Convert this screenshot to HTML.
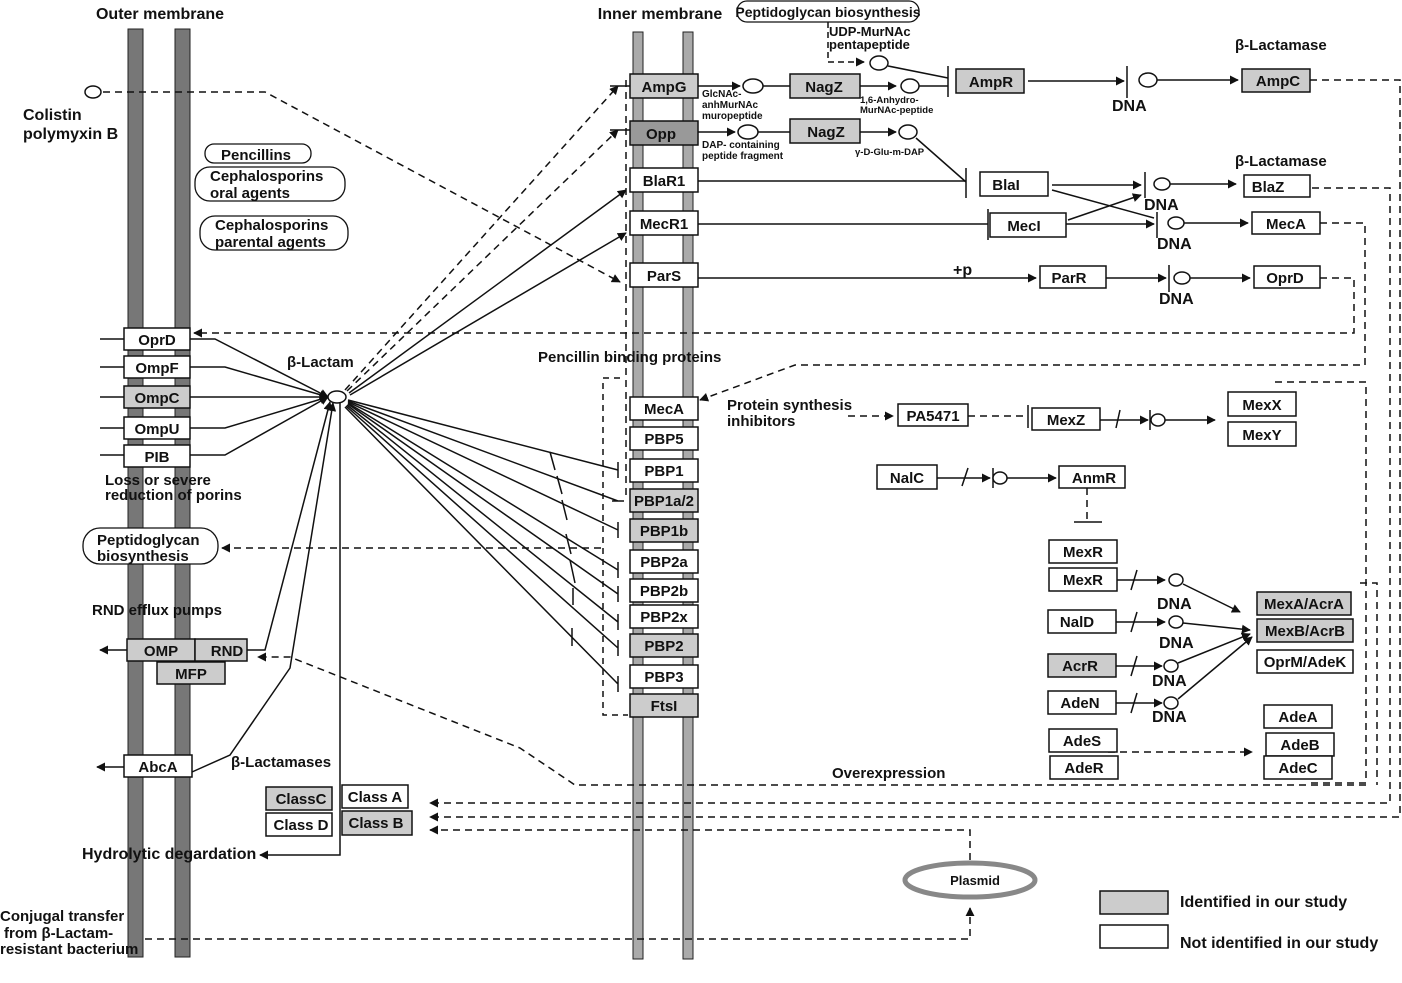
<!DOCTYPE html>
<html><head><meta charset="utf-8"><style>
html,body{margin:0;padding:0;background:#fff}
svg{display:block}
text{font-family:"Liberation Sans",Arial,sans-serif;font-weight:bold;fill:#111}
.b{font-size:15px;text-anchor:middle}
.s{font-size:10px}
.l{font-size:16px}
</style></head><body>
<svg width="1402" height="983" viewBox="0 0 1402 983" xmlns="http://www.w3.org/2000/svg">
<defs>
<marker id="a" viewBox="0 0 10 10" refX="9" refY="5" markerWidth="9" markerHeight="9" markerUnits="userSpaceOnUse" orient="auto"><path d="M0,0L10,5L0,10z" fill="#111"/></marker>
</defs>
<g stroke="#222" stroke-width="1">
<rect x="128" y="29" width="15" height="928" fill="#777"/>
<rect x="175" y="29" width="15" height="928" fill="#777"/>
<rect x="633" y="32" width="10" height="927" fill="#aaa"/>
<rect x="683" y="32" width="10" height="927" fill="#aaa"/>
</g>
<text x="160" y="19" class="b" style="font-size:16px">Outer membrane</text>
<text x="660" y="19" class="b" style="font-size:16px">Inner membrane</text>

<g fill="none" stroke="#111" stroke-width="1.5">
<ellipse cx="93" cy="92" rx="8" ry="6" fill="#fff"/>
<path d="M103,92H265L620,282" stroke-dasharray="7,5" marker-end="url(#a)"/>
<path d="M190,339H215L328,397" marker-end="url(#a)"/>
<path d="M190,367H225L328,397" marker-end="url(#a)"/>
<path d="M190,397H328" marker-end="url(#a)"/>
<path d="M190,428H225L328,397" marker-end="url(#a)"/>
<path d="M190,455H225L328,397" marker-end="url(#a)"/>
<path d="M100,339H124M100,367H124M100,397H124M100,428H124M100,455H124"/>
<path d="M247,650H265L330,402" marker-end="url(#a)"/>
<path d="M192,772L230,755L290,668L333,403" marker-end="url(#a)"/>
<path d="M340,402V855H260" marker-end="url(#a)"/>
<path d="M127,650H100" marker-end="url(#a)"/>
<path d="M124,767H97" marker-end="url(#a)"/>
<path d="M345,390L618,86" stroke-dasharray="7,5" marker-end="url(#a)"/>
<path d="M347,391L618,130" stroke-dasharray="7,5" marker-end="url(#a)"/>
<path d="M349,393L626,190" marker-end="url(#a)"/>
<path d="M350,395L626,233" marker-end="url(#a)"/>
<path d="M610,86H630M610,130H630"/>
<path d="M626,80V495" stroke-dasharray="7,5"/>
<path d="M620,378H603V715H628" stroke-dasharray="6,5"/>
<path d="M348,400L618,470M618,462V478"/>
<path d="M348,401L618,501M612,501H624"/>
<path d="M348,402L618,530M618,522V538"/>
<path d="M348,403L618,570M618,562V578"/>
<path d="M348,404L618,594M618,586V602"/>
<path d="M347,405L618,622M618,614V630"/>
<path d="M346,406L618,648M618,640V656"/>
<path d="M345,407L618,684M618,676V692"/>
<path d="M550,452L555,470M557,476L562,494M562,500L567,520M566,534L571,554M570,560L575,583M573,588L573,605M572,628L572,646"/>
<ellipse cx="337" cy="397" rx="9" ry="6" fill="#fff"/>
<path d="M698,86H740" marker-end="url(#a)"/>
<ellipse cx="753" cy="86" rx="10" ry="7" fill="#fff"/>
<path d="M763,86H790"/>
<path d="M860,86H896" marker-end="url(#a)"/>
<ellipse cx="910" cy="86" rx="9" ry="7" fill="#fff"/>
<path d="M919,86H948M948,66V97"/>
<path d="M828,22V62H864" stroke-dasharray="6,4" marker-end="url(#a)"/>
<ellipse cx="879" cy="63" rx="9" ry="7" fill="#fff"/>
<path d="M888,66L948,78"/>
<path d="M698,132H735" marker-end="url(#a)"/>
<ellipse cx="748" cy="132" rx="10" ry="7" fill="#fff"/>
<path d="M758,132H790"/>
<path d="M860,132H896" marker-end="url(#a)"/>
<ellipse cx="908" cy="132" rx="9" ry="7" fill="#fff"/>
<path d="M916,138L966,182M966,168V198"/>
<path d="M698,181H966"/>
<path d="M698,224H988M988,209V240"/>
<path d="M1028,81H1124" marker-end="url(#a)"/>
<path d="M1127,66V98"/>
<ellipse cx="1148" cy="80" rx="9" ry="7" fill="#fff"/>
<path d="M1157,80H1238" marker-end="url(#a)"/>
<path d="M1052,185H1141" marker-end="url(#a)"/>
<path d="M1052,190L1154,218"/>
<path d="M1068,220L1141,195" marker-end="url(#a)"/>
<path d="M1066,224H1154" marker-end="url(#a)"/>
<path d="M1145,172V198M1157,212V238"/>
<ellipse cx="1162" cy="184" rx="8" ry="6" fill="#fff"/>
<path d="M1170,184H1236" marker-end="url(#a)"/>
<ellipse cx="1176" cy="223" rx="8" ry="6" fill="#fff"/>
<path d="M1184,223H1248" marker-end="url(#a)"/>
<path d="M698,278H1036" marker-end="url(#a)"/>
<path d="M1106,278H1166" marker-end="url(#a)"/>
<path d="M1169,265V292"/>
<ellipse cx="1182" cy="278" rx="8" ry="6" fill="#fff"/>
<path d="M1190,278H1250" marker-end="url(#a)"/>
<g stroke-dasharray="7,5">
<path d="M1320,278H1354V333H194" marker-end="url(#a)"/>
<path d="M1320,223H1365V365H795L700,400" marker-end="url(#a)"/>
<path d="M1312,188H1390V803H430" marker-end="url(#a)"/>
<path d="M1310,80H1400V817H430" marker-end="url(#a)"/>
<path d="M970,860V830H430" marker-end="url(#a)"/>
<path d="M145,939H970V908" marker-end="url(#a)"/>
<path d="M601,548H222" marker-end="url(#a)"/>
<path d="M1275,382H1366V783H1311"/>
<path d="M1366,785H575L520,748L290,657H258" marker-end="url(#a)"/>
<path d="M1360,583H1377V785"/>
<path d="M848,416H893" marker-end="url(#a)"/>
<path d="M968,416H1028"/>
<path d="M1108,752H1252" marker-end="url(#a)"/>
<path d="M1087,488V522"/>
</g>
<path d="M1028,405V428M1074,522H1102"/>
<path d="M1100,420H1148" marker-end="url(#a)"/>
<path d="M1116,428L1120,410M1150,410V430"/>
<ellipse cx="1158" cy="420" rx="7" ry="6" fill="#fff"/>
<path d="M1165,420H1215" marker-end="url(#a)"/>
<path d="M937,478H990" marker-end="url(#a)"/>
<path d="M962,486L968,468M993,468V488"/>
<ellipse cx="1000" cy="478" rx="7" ry="6" fill="#fff"/>
<path d="M1007,478H1056" marker-end="url(#a)"/>
<path d="M1116,580H1165" marker-end="url(#a)"/><path d="M1131,590L1137,570"/>
<ellipse cx="1176" cy="580" rx="7" ry="6" fill="#fff"/>
<path d="M1183,584L1240,612" marker-end="url(#a)"/>
<path d="M1116,622H1165" marker-end="url(#a)"/><path d="M1131,632L1137,612"/>
<ellipse cx="1176" cy="622" rx="7" ry="6" fill="#fff"/>
<path d="M1183,623L1250,630" marker-end="url(#a)"/>
<path d="M1116,666H1162" marker-end="url(#a)"/><path d="M1131,676L1137,656"/>
<ellipse cx="1171" cy="666" rx="7" ry="6" fill="#fff"/>
<path d="M1178,663L1250,634" marker-end="url(#a)"/>
<path d="M1116,703H1162" marker-end="url(#a)"/><path d="M1131,713L1137,693"/>
<ellipse cx="1171" cy="703" rx="7" ry="6" fill="#fff"/>
<path d="M1178,699L1252,637" marker-end="url(#a)"/>
</g>

<g fill="#fff" stroke="#111" stroke-width="1.3">
<rect x="205" y="144" width="106" height="19" rx="9"/>
<rect x="195" y="167" width="150" height="34" rx="15"/>
<rect x="200" y="216" width="148" height="34" rx="15"/>
<rect x="83" y="528" width="135" height="36" rx="17"/>
<rect x="737" y="1" width="182" height="21" rx="10"/>
</g>
<text x="256" y="160" class="l" text-anchor="middle" style="font-size:15px">Pencillins</text>
<text x="210" y="181" class="l" style="font-size:15px">Cephalosporins</text><text x="210" y="198" class="l" style="font-size:15px">oral agents</text>
<text x="215" y="230" class="l" style="font-size:15px">Cephalosporins</text><text x="215" y="247" class="l" style="font-size:15px">parental agents</text>
<text x="97" y="545" class="l" style="font-size:15px">Peptidoglycan</text><text x="97" y="561" class="l" style="font-size:15px">biosynthesis</text>
<text x="828" y="17" class="l" text-anchor="middle" style="font-size:14px">Peptidoglycan biosynthesis</text>

<g stroke="#111" stroke-width="1.5">
<g fill="#fff">
<rect x="124" y="328" width="66" height="22"/>
<rect x="124" y="356" width="66" height="22"/>
<rect x="124" y="417" width="66" height="22"/>
<rect x="124" y="445" width="66" height="22"/>
<rect x="124" y="755" width="68" height="22"/>
<rect x="630" y="168" width="68" height="24"/>
<rect x="630" y="211" width="68" height="24"/>
<rect x="630" y="263" width="68" height="24"/>
<rect x="630" y="397" width="68" height="23"/>
<rect x="630" y="427" width="68" height="23"/>
<rect x="630" y="459" width="68" height="23"/>
<rect x="630" y="550" width="68" height="23"/>
<rect x="630" y="579" width="68" height="23"/>
<rect x="630" y="605" width="68" height="23"/>
<rect x="630" y="665" width="68" height="23"/>
<rect x="980" y="172" width="68" height="24"/>
<rect x="1244" y="175" width="66" height="22"/>
<rect x="990" y="213" width="76" height="24"/>
<rect x="1252" y="212" width="68" height="22"/>
<rect x="1040" y="266" width="66" height="22"/>
<rect x="1254" y="266" width="66" height="22"/>
<rect x="898" y="404" width="70" height="22"/>
<rect x="1032" y="408" width="68" height="22"/>
<rect x="1228" y="392" width="68" height="24"/>
<rect x="1228" y="422" width="68" height="24"/>
<rect x="877" y="465" width="60" height="24"/>
<rect x="1059" y="466" width="66" height="22"/>
<rect x="1049" y="540" width="68" height="23"/>
<rect x="1049" y="568" width="68" height="23"/>
<rect x="1048" y="610" width="68" height="23"/>
<rect x="1048" y="691" width="68" height="23"/>
<rect x="1049" y="729" width="68" height="23"/>
<rect x="1050" y="756" width="68" height="23"/>
<rect x="1257" y="650" width="96" height="23"/>
<rect x="1264" y="705" width="68" height="23"/>
<rect x="1266" y="733" width="68" height="23"/>
<rect x="1264" y="756" width="68" height="23"/>
<rect x="342" y="785" width="66" height="23"/>
<rect x="266" y="813" width="66" height="23"/>
<rect x="1100" y="925" width="68" height="23"/>
</g>
<g fill="#ccc">
<rect x="124" y="386" width="66" height="22"/>
<rect x="127" y="639" width="68" height="22"/>
<rect x="195" y="639" width="52" height="22"/>
<rect x="157" y="662" width="68" height="22"/>
<rect x="630" y="74" width="68" height="24"/>
<rect x="630" y="489" width="68" height="23"/>
<rect x="630" y="519" width="68" height="23"/>
<rect x="630" y="634" width="68" height="23"/>
<rect x="630" y="694" width="68" height="23"/>
<rect x="790" y="74" width="70" height="24"/>
<rect x="790" y="119" width="70" height="24"/>
<rect x="956" y="69" width="68" height="24"/>
<rect x="1242" y="69" width="68" height="23"/>
<rect x="1048" y="654" width="68" height="23"/>
<rect x="1257" y="592" width="94" height="23"/>
<rect x="1257" y="619" width="96" height="23"/>
<rect x="266" y="787" width="66" height="23"/>
<rect x="342" y="811" width="70" height="24"/>
<rect x="1100" y="891" width="68" height="23"/>
</g>
<rect x="630" y="121" width="68" height="24" fill="#999"/>
</g>
<ellipse cx="970" cy="880" rx="65" ry="17" fill="#fff" stroke="#888" stroke-width="5"/>

<g class="b">
<text x="157" y="345" class="b">OprD</text>
<text x="157" y="373" class="b">OmpF</text>
<text x="157" y="403" class="b">OmpC</text>
<text x="157" y="434" class="b">OmpU</text>
<text x="157" y="462" class="b">PIB</text>
<text x="161" y="656" class="b">OMP</text>
<text x="227" y="656" class="b">RND</text>
<text x="191" y="679" class="b">MFP</text>
<text x="158" y="772" class="b">AbcA</text>
<text x="664" y="92" class="b">AmpG</text>
<text x="661" y="139" class="b">Opp</text>
<text x="664" y="186" class="b">BlaR1</text>
<text x="664" y="229" class="b">MecR1</text>
<text x="664" y="281" class="b">ParS</text>
<text x="664" y="414" class="b">MecA</text>
<text x="664" y="444" class="b">PBP5</text>
<text x="664" y="476" class="b">PBP1</text>
<text x="664" y="506" class="b">PBP1a/2</text>
<text x="664" y="536" class="b">PBP1b</text>
<text x="664" y="567" class="b">PBP2a</text>
<text x="664" y="596" class="b">PBP2b</text>
<text x="664" y="622" class="b">PBP2x</text>
<text x="664" y="651" class="b">PBP2</text>
<text x="664" y="682" class="b">PBP3</text>
<text x="664" y="711" class="b">FtsI</text>
<text x="824" y="92" class="b">NagZ</text>
<text x="826" y="137" class="b">NagZ</text>
<text x="991" y="87" class="b">AmpR</text>
<text x="1278" y="86" class="b">AmpC</text>
<text x="1006" y="190" class="b">BlaI</text>
<text x="1268" y="192" class="b">BlaZ</text>
<text x="1024" y="231" class="b">MecI</text>
<text x="1286" y="229" class="b">MecA</text>
<text x="1069" y="283" class="b">ParR</text>
<text x="1285" y="283" class="b">OprD</text>
<text x="933" y="421" class="b">PA5471</text>
<text x="1066" y="425" class="b">MexZ</text>
<text x="1262" y="410" class="b">MexX</text>
<text x="1262" y="440" class="b">MexY</text>
<text x="907" y="483" class="b">NalC</text>
<text x="1094" y="483" class="b">AnmR</text>
<text x="1083" y="557" class="b">MexR</text>
<text x="1083" y="585" class="b">MexR</text>
<text x="1077" y="627" class="b">NalD</text>
<text x="1080" y="671" class="b">AcrR</text>
<text x="1080" y="708" class="b">AdeN</text>
<text x="1082" y="746" class="b">AdeS</text>
<text x="1084" y="773" class="b">AdeR</text>
<text x="1304" y="609" class="b">MexA/AcrA</text>
<text x="1305" y="636" class="b">MexB/AcrB</text>
<text x="1305" y="667" class="b">OprM/AdeK</text>
<text x="1298" y="722" class="b">AdeA</text>
<text x="1300" y="750" class="b">AdeB</text>
<text x="1298" y="773" class="b">AdeC</text>
<text x="301" y="804" class="b">ClassC</text>
<text x="375" y="802" class="b">Class A</text>
<text x="301" y="830" class="b">Class D</text>
<text x="376" y="828" class="b">Class B</text>
<text x="975" y="885" class="b" style="font-size:13px">Plasmid</text>
</g>

<g>
<text x="23" y="120" class="l">Colistin</text>
<text x="23" y="139" class="l">polymyxin B</text>
<text x="287" y="367" class="l" style="font-size:15px">β-Lactam</text>
<text x="105" y="485" class="l" style="font-size:15px">Loss or severe</text>
<text x="105" y="500" class="l" style="font-size:15px">reduction of porins</text>
<text x="92" y="615" class="l" style="font-size:15px">RND efflux pumps</text>
<text x="231" y="767" class="l" style="font-size:15px">β-Lactamases</text>
<text x="82" y="859" class="l">Hydrolytic degardation</text>
<text x="0" y="921" class="l" style="font-size:15px">Conjugal transfer</text>
<text x="4" y="938" class="l" style="font-size:15px">from β-Lactam-</text>
<text x="0" y="954" class="l" style="font-size:15px">resistant bacterium</text>
<text x="538" y="362" class="l" style="font-size:15px">Pencillin binding proteins</text>
<text x="727" y="410" class="l" style="font-size:15px">Protein synthesis</text>
<text x="727" y="426" class="l" style="font-size:15px">inhibitors</text>
<text x="832" y="778" class="l" style="font-size:15px">Overexpression</text>
<text x="829" y="36" class="l" style="font-size:13px">UDP-MurNAc</text>
<text x="829" y="49" class="l" style="font-size:13px">pentapeptide</text>
<text x="1235" y="50" class="l" style="font-size:15px">β-Lactamase</text>
<text x="1235" y="166" class="l" style="font-size:15px">β-Lactamase</text>
<text x="953" y="275" class="l">+p</text>
<text x="1112" y="111" class="l">DNA</text>
<text x="1144" y="210" class="l">DNA</text>
<text x="1157" y="249" class="l">DNA</text>
<text x="1159" y="304" class="l">DNA</text>
<text x="1157" y="609" class="l">DNA</text>
<text x="1159" y="648" class="l">DNA</text>
<text x="1152" y="686" class="l">DNA</text>
<text x="1152" y="722" class="l">DNA</text>
<text x="1180" y="907" class="l">Identified in our study</text>
<text x="1180" y="948" class="l">Not identified in our study</text>
</g>
<g>
<text x="702" y="97" class="s">GlcNAc-</text>
<text x="702" y="108" class="s">anhMurNAc</text>
<text x="702" y="119" class="s">muropeptide</text>
<text x="702" y="148" class="s">DAP- containing</text>
<text x="702" y="159" class="s">peptide fragment</text>
<text x="860" y="103" class="s" style="font-size:9.5px">1,6-Anhydro-</text>
<text x="860" y="113" class="s" style="font-size:9.5px">MurNAc-peptide</text>
<text x="855" y="155" class="s" style="font-size:9.5px">γ-D-Glu-m-DAP</text>
</g>
</svg>
</body></html>
